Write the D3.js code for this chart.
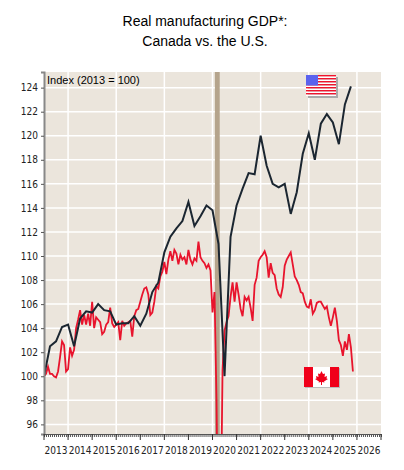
<!DOCTYPE html>
<html><head><meta charset="utf-8">
<script src="https://cdn.jsdelivr.net/npm/d3@7"></script>
<style>
body{margin:0;background:#fff;}
svg text{font-family:"Liberation Sans",Arial,sans-serif;}
.tick text{font-family:"Liberation Sans Narrow","DejaVu Sans Condensed",sans-serif;font-size:10px;fill:#222;}
</style></head>
<body><svg id="chart" width="404" height="470"></svg>
<script>
// US quarterly index, starting 2013 Q1
var usValues = [100, 102.5, 102.9, 104.1, 104.3, 102.5, 104.8, 105.4, 105.3, 106.0, 105.5, 105.4,
  104.3, 104.4, 104.4, 105.0, 104.2, 105.2, 107.0, 107.8, 110.3, 111.6, 112.3, 112.9,
  114.5, 112.5, 113.3, 114.2, 113.8, 111.0, 100.0, 111.6, 114.2, 115.6, 116.9, 116.8,
  120.0, 117.5, 116.0, 115.7, 116.0, 113.5, 115.3, 118.5, 120.2, 118.0, 121.0, 121.8,
  121.1, 119.3, 122.6, 124.1];

// Canada monthly index, starting Jan 2013
var caValues = [
  100, 100.2, 100.8, 100.2, 100.2, 100.0, 99.9, 100.4, 101.6, 102.9, 102.6, 100.4,
  100.6, 102.4, 101.7, 102.2, 104.0, 104.7, 105.5, 104.3, 105.1, 104.3, 105.2, 104.2,
  106.2, 104.0, 104.9, 104.7, 104.5, 103.5, 103.7, 104.3, 104.5, 105.7, 104.4, 104.1,
  104.3, 104.5, 103.0, 104.6, 104.2, 104.4, 104.5, 104.6, 103.3, 105.0, 105.5, 105.6,
  106.2, 106.8, 107.3, 107.4, 106.8, 105.1, 105.3, 106.2, 107.5, 107.3, 108.3, 108.7,
  109.5, 108.5, 109.7, 110.4, 109.6, 110.5, 110.2, 109.3, 110.1, 109.7, 109.9, 109.3,
  110.5, 109.7, 109.3, 109.8, 109.6, 111.2, 109.9, 109.6, 109.4, 109.0, 109.3, 108.8,
  105.3, 107.0, 98.0, 84.0, 86.0, 100.5, 103.8, 104.5, 105.0, 106.6, 107.8, 106.2,
  107.8, 106.8, 105.6, 105.0, 106.6, 106.3, 106.6, 105.7, 104.6, 107.6, 108.2, 109.6,
  109.9, 110.1, 110.4, 109.9, 108.2, 109.4, 108.6, 108.4, 107.3, 106.8, 106.6, 107.4,
  109.2, 109.7, 110.0, 110.3, 109.3, 108.3, 108.0, 107.6, 107.0, 106.9, 106.2, 105.8,
  105.7, 106.4, 105.2, 105.5, 106.1, 106.2, 106.2, 105.9, 105.6, 105.8, 104.9, 104.2,
  104.9, 105.7, 104.6, 103.0, 102.6, 101.7, 102.9, 102.2, 103.5, 102.4, 100.4];

var yTicks = [96, 98, 100, 102, 104, 106, 108, 110, 112, 114, 116, 118, 120, 122, 124];
var yearLabels = d3.range(2013, 2027);
var recession = [2020.1, 2020.3];

var svg = d3.select('#chart');
var plotLeft = 44, plotRight = 381, plotTop = 72, plotBottom = 434;

var x = d3.scaleLinear().domain([2013, 2027]).range([plotLeft, plotRight]);
var y = d3.scaleLinear().domain([95.2, 125.3]).range([plotBottom, plotTop]);

svg.append('text').attr('x', 205).attr('y', 26).attr('text-anchor', 'middle')
  .style('font-size', '14px').text('Real manufacturing GDP*:');
svg.append('text').attr('x', 205).attr('y', 46).attr('text-anchor', 'middle')
  .style('font-size', '14px').text('Canada vs. the U.S.');

svg.append('rect').attr('x', plotLeft).attr('y', plotTop).attr('width', plotRight - plotLeft)
  .attr('height', plotBottom - plotTop).attr('fill', '#ebe5dc');

// grid
svg.append('g').selectAll('line').data(yTicks).enter().append('line')
  .attr('x1', plotLeft).attr('x2', plotRight).attr('y1', d => y(d)).attr('y2', d => y(d))
  .attr('stroke', '#fff').attr('stroke-width', 1.5);
svg.append('g').selectAll('line').data(d3.range(2014, 2027, 2)).enter().append('line')
  .attr('x1', d => x(d)).attr('x2', d => x(d)).attr('y1', plotTop).attr('y2', plotBottom)
  .attr('stroke', '#fff').attr('stroke-width', 1.5);

svg.append('rect').attr('x', x(recession[0])).attr('y', plotTop)
  .attr('width', x(recession[1]) - x(recession[0])).attr('height', plotBottom - plotTop)
  .attr('fill', '#b5a48c');

svg.append('defs').append('clipPath').attr('id', 'clip').append('rect')
  .attr('x', plotLeft).attr('y', plotTop).attr('width', plotRight - plotLeft).attr('height', plotBottom - plotTop);

var usLine = d3.line().x((d, i) => x(2013 + i * 0.25)).y(d => y(d));
var caLine = d3.line().x((d, i) => x(2013 + i / 12)).y(d => y(d));

svg.append('path').datum(caValues).attr('d', caLine).attr('fill', 'none')
  .attr('stroke', '#e8142d').attr('stroke-width', 1.8).attr('clip-path', 'url(#clip)');
svg.append('path').datum(usValues).attr('d', usLine).attr('fill', 'none')
  .attr('stroke', '#1b2631').attr('stroke-width', 2).attr('clip-path', 'url(#clip)');

// axes
var yAxis = svg.append('g').attr('transform', 'translate(' + plotLeft + ',0)')
  .call(d3.axisLeft(y).tickValues(yTicks).tickSize(3));
yAxis.select('.domain').attr('stroke', '#888').attr('stroke-width', 2);
yAxis.selectAll('.tick line').attr('stroke', '#555');

var xg = svg.append('g').attr('transform', 'translate(0,' + plotBottom + ')');
xg.call(d3.axisBottom(x).tickValues(d3.range(0, 14 * 12 + 1).map(m => 2013 + m / 12)).tickSize(3).tickFormat(''));
xg.select('.domain').attr('stroke', '#555');
xg.selectAll('.tick line').attr('stroke', '#555');
xg.selectAll('.big').data(d3.range(2013, 2028)).enter().append('line')
  .attr('x1', d => x(d)).attr('x2', d => x(d)).attr('y1', 0).attr('y2', 6).attr('stroke', '#333');
xg.selectAll('.lbl').data(yearLabels).enter().append('text')
  .attr('x', d => x(d + 0.5)).attr('y', 20).attr('text-anchor', 'middle')
  .style('font-family', '"Liberation Sans Narrow","DejaVu Sans Condensed",sans-serif')
  .style('font-size', '10px').attr('fill', '#222').text(d => d);

svg.append('text').attr('x', 47).attr('y', 84).style('font-size', '11px').text('Index (2013 = 100)');

// US flag
var us = svg.append('g').attr('transform', 'translate(306,75)');
us.append('rect').attr('x', 2).attr('y', 2).attr('width', 30).attr('height', 21).attr('fill', '#aaa');
d3.range(7).forEach(function(i) {
  us.append('rect').attr('x', 0).attr('y', i * 3).attr('width', 30).attr('height', 1.6).attr('fill', '#f0142d');
  us.append('rect').attr('x', 0).attr('y', i * 3 + 1.6).attr('width', 30).attr('height', 1.4).attr('fill', '#fff');
});
us.append('rect').attr('x', 0).attr('y', 0).attr('width', 12).attr('height', 10.5).attr('fill', '#5a62ee');

// Canada flag
var ca = svg.append('g').attr('transform', 'translate(304,367)');
ca.append('rect').attr('x', 1).attr('y', 1).attr('width', 35).attr('height', 20).attr('fill', '#bbb');
ca.append('rect').attr('width', 35).attr('height', 20).attr('fill', '#fff');
ca.append('rect').attr('width', 9).attr('height', 20).attr('fill', '#f0001a');
ca.append('rect').attr('x', 26).attr('width', 9).attr('height', 20).attr('fill', '#f0001a');
ca.append('path').attr('fill', '#f0001a')
  .attr('d', 'M17.5,4 L19,7 L21,6.5 L20.5,10 L23,9 L22.5,11.5 L24,12 L20,14.5 L20.5,15.5 L18,15 L18,18 L17,18 L17,15 L14.5,15.5 L15,14.5 L11,12 L12.5,11.5 L12,9 L14.5,10 L14,6.5 L16,7 Z');
</script>
</body></html>
